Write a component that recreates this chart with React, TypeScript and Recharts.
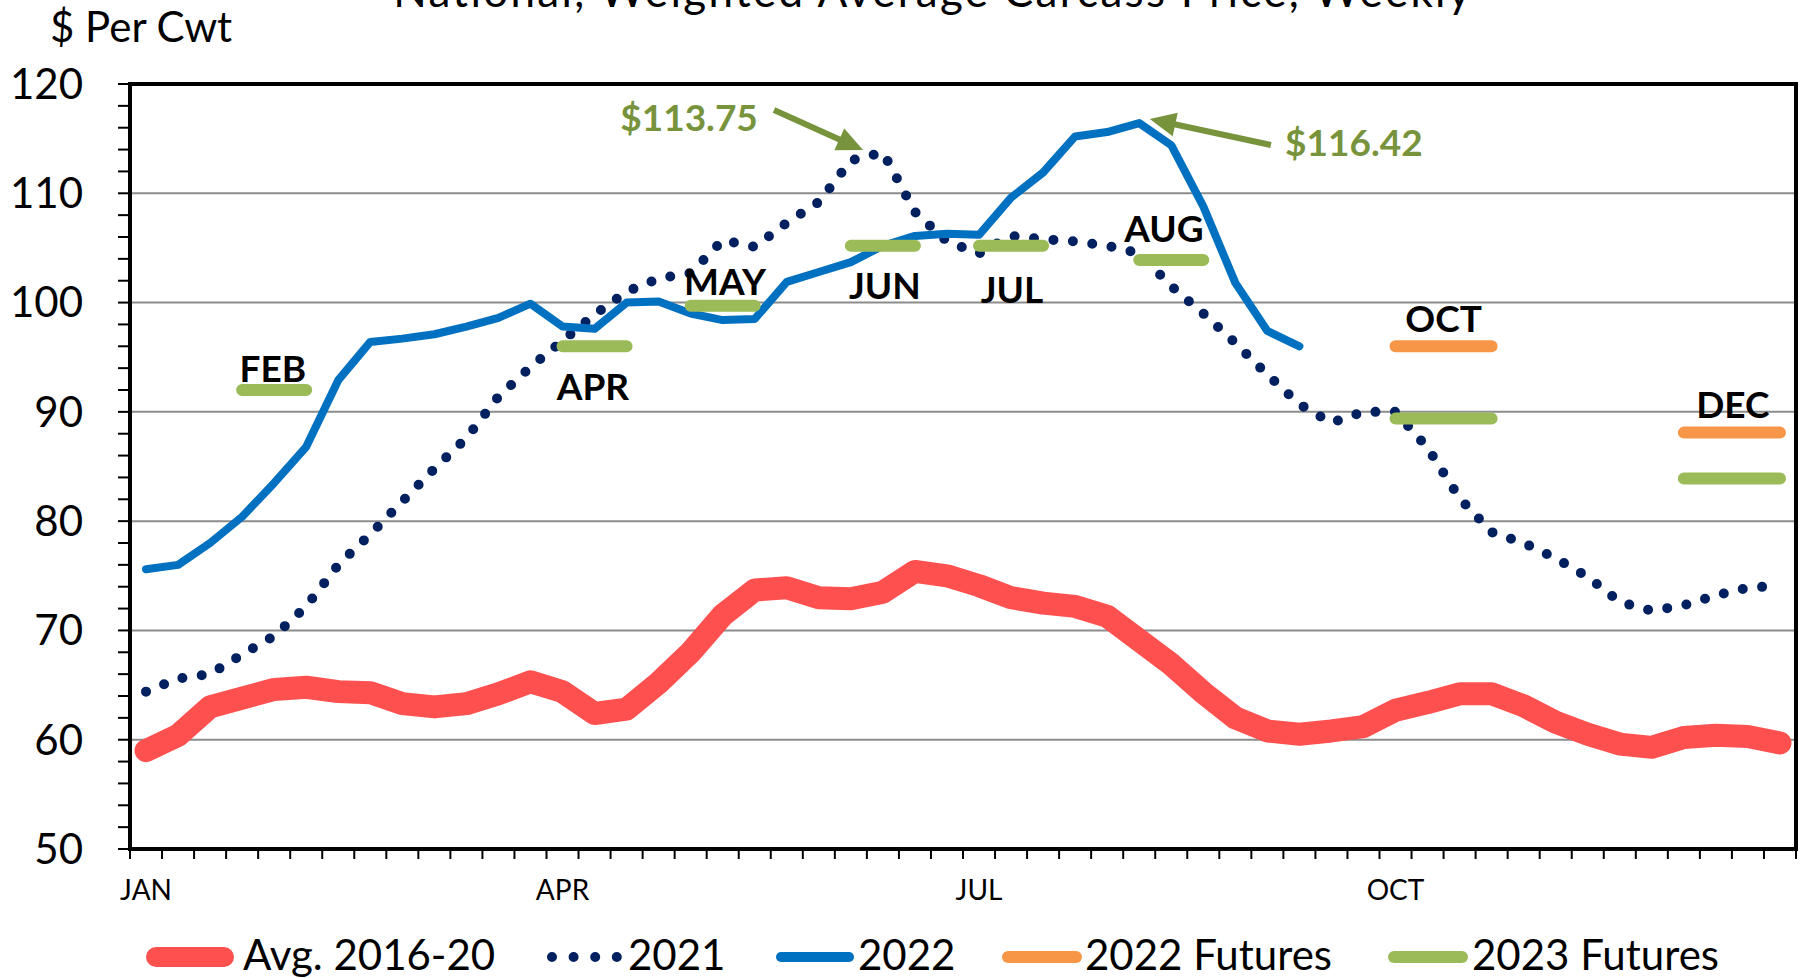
import React from 'react';
import {
  LineChart,
  Line,
  XAxis,
  YAxis,
  CartesianGrid,
  ReferenceArea,
  ReferenceDot,
  ReferenceLine,
} from 'recharts';

// ---------------- DATA ----------------
const weeks = [
  1, 2, 3, 4, 5, 6, 7, 8, 9, 10, 11, 12, 13, 14, 15, 16, 17, 18, 19, 20, 21, 22, 23, 24, 25, 26,
  27, 28, 29, 30, 31, 32, 33, 34, 35, 36, 37, 38, 39, 40, 41, 42, 43, 44, 45, 46, 47, 48, 49, 50,
  51, 52,
];

const quarterWeeks = [1, 14, 27, 40];
const quarterLabels = ['JAN', 'APR', 'JUL', 'OCT'];

const yTicks = [
  50, 52, 54, 56, 58, 60, 62, 64, 66, 68, 70, 72, 74, 76, 78, 80, 82, 84, 86, 88, 90, 92, 94, 96,
  98, 100, 102, 104, 106, 108, 110, 112, 114, 116, 118, 120,
];
const gridValues = [60, 70, 80, 90, 100, 110];

const avg2016_20 = [
  59.0, 60.4, 63.0, 63.8, 64.6, 64.8, 64.4, 64.3, 63.3, 63.0, 63.3, 64.2, 65.3, 64.4, 62.4, 62.8,
  65.2, 68.0, 71.4, 73.7, 73.9, 73.0, 72.9, 73.5, 75.4, 75.0, 74.1, 73.0, 72.5, 72.2, 71.3, 69.1,
  66.9, 64.3, 62.0, 60.8, 60.5, 60.8, 61.2, 62.7, 63.4, 64.2, 64.2, 63.1, 61.6, 60.5, 59.6, 59.3,
  60.2, 60.4, 60.3, 59.7,
];

const y2021 = [
  64.4, 65.6, 66.0, 67.8, 69.5, 72.2, 76.0, 78.8, 81.8, 84.8, 87.6, 91.4, 94.1, 96.5, 98.9, 101.0,
  102.2, 102.7, 105.7, 105.1, 107.3, 109.2, 113.0, 113.75, 108.3, 105.6, 104.5, 106.1, 105.8, 105.6,
  105.2, 104.5, 101.5, 99.0, 96.3, 93.4, 90.7, 89.0, 90.0, 90.0, 86.7, 82.1, 79.0, 78.0, 76.6, 74.9,
  72.6, 71.8, 72.3, 73.2, 73.9, 74.1,
];

const y2022 = [
  75.6, 76.0, 78.0, 80.4, 83.5, 86.8, 92.9, 96.4, 96.7, 97.1, 97.8, 98.6, 99.9, 97.8, 97.6, 100.0,
  100.1, 99.0, 98.4, 98.5, 101.9, 102.8, 103.7, 105.2, 106.1, 106.3, 106.2, 109.6, 111.9, 115.2,
  115.6, 116.42, 114.4, 108.8, 101.8, 97.4, 96.0,
];

const futures2022 = [
  { month: 'OCT', weeks: [40, 41, 42, 43], price: 96.0 },
  { month: 'DEC', weeks: [49, 50, 51, 52], price: 88.1 },
];

const futures2023 = [
  { month: 'FEB', weeks: [4, 5, 6], price: 92.0 },
  { month: 'APR', weeks: [14, 15, 16], price: 96.0 },
  { month: 'MAY', weeks: [18, 19, 20], price: 99.7 },
  { month: 'JUN', weeks: [23, 24, 25], price: 105.2 },
  { month: 'JUL', weeks: [27, 28, 29], price: 105.2 },
  { month: 'AUG', weeks: [32, 33, 34], price: 103.9 },
  { month: 'OCT', weeks: [40, 41, 42, 43], price: 89.4 },
  { month: 'DEC', weeks: [49, 50, 51, 52], price: 83.9 },
];

// contract month labels (anchor: week, price at text baseline)
const monthLabels = [
  { text: 'FEB', week: 4.96, value: 92.69 },
  { text: 'APR', week: 14.95, value: 91.09 },
  { text: 'MAY', week: 19.07, value: 100.7 },
  { text: 'JUN', week: 24.06, value: 100.36 },
  { text: 'JUL', week: 28.03, value: 99.96 },
  { text: 'AUG', week: 32.77, value: 105.54 },
  { text: 'OCT', week: 41.5, value: 97.31 },
  { text: 'DEC', week: 50.53, value: 89.44 },
];

const peakNotes = [
  {
    text: '$113.75',
    textWeek: 17.95,
    textValue: 115.7,
    from: { week: 20.6, value: 117.62 },
    to: { week: 23.38, value: 113.96 },
  },
  {
    text: '$116.42',
    textWeek: 38.7,
    textValue: 113.41,
    from: { week: 36.11, value: 114.42 },
    to: { week: 32.33, value: 116.8 },
  },
];

// ---------------- STYLES ----------------
const FONT = 'Lato, "Noto Sans", "DejaVu Sans", sans-serif';
const RED = '#FF5050';
const NAVY = '#002060';
const BLUE = '#0070C0';
const ORANGE = '#F79646';
const GREEN = '#9BBB59';
const OLIVE = '#77933C';

const seriesDefs = [
  { key: 'avg', name: 'Avg. 2016-20', color: RED, width: 23, dash: undefined as string | undefined },
  { key: 'y2021', name: '2021', color: NAVY, width: 10, dash: '0 19.5' },
  { key: 'y2022', name: '2022', color: BLUE, width: 8, dash: undefined },
  { key: 'f2022', name: '2022 Futures', color: ORANGE, width: 12, dash: undefined },
  { key: 'f2023', name: '2023 Futures', color: GREEN, width: 12, dash: undefined },
];

const legendLayout = [
  { x1: 156, x2: 224, textX: 243, width: 20, dash: undefined as string | undefined },
  { x1: 552, x2: 617, textX: 628, width: 10, dash: '0 21.6' },
  { x1: 781, x2: 849, textX: 858, width: 10, dash: undefined },
  { x1: 1008, x2: 1076, textX: 1085, width: 12, dash: undefined },
  { x1: 1394, x2: 1462, textX: 1472, width: 12, dash: undefined },
];

// ---------------- TABLE ----------------
const priceAt = (list: { weeks: number[]; price: number }[], w: number) => {
  const c = list.find((f) => f.weeks.includes(w));
  return c ? c.price : null;
};

const rows = weeks.map((w, i) => ({
  week: w,
  avg: avg2016_20[i],
  y2021: y2021[i],
  y2022: i < y2022.length ? y2022[i] : null,
  f2022: priceAt(futures2022, w),
  f2023: priceAt(futures2023, w),
}));

const xTicks = [...weeks.map((w) => w - 0.5), weeks[weeks.length - 1] + 0.5, ...quarterWeeks].sort(
  (a, b) => a - b
);

const XTick = (props: any) => {
  const { x, y, payload } = props;
  const v = payload.value;
  const qi = quarterWeeks.indexOf(v);
  if (qi >= 0) {
    return (
      <text x={x} y={y + 41} textAnchor="middle" fontFamily={FONT} fontSize={28} fill="#000">
        {quarterLabels[qi]}
      </text>
    );
  }
  return <line x1={x} y1={y - 10} x2={x} y2={y} stroke="#000" strokeWidth={2} />;
};

const Arrow = (p: any) => {
  const { x1, y1, x2, y2 } = p;
  const dx = x2 - x1;
  const dy = y2 - y1;
  const len = Math.hypot(dx, dy) || 1;
  const ux = dx / len;
  const uy = dy / len;
  const head = 26;
  const half = 12;
  const bx = x2 - ux * head;
  const by = y2 - uy * head;
  const px = -uy;
  const py = ux;
  return (
    <g>
      <line x1={x1} y1={y1} x2={bx + ux * 2} y2={by + uy * 2} stroke={OLIVE} strokeWidth={6} />
      <polygon
        points={`${x2},${y2} ${bx + px * half},${by + py * half} ${bx - px * half},${by - py * half}`}
        fill={OLIVE}
      />
    </g>
  );
};

export default function App() {
  return (
    <div
      style={{
        position: 'absolute',
        left: 0,
        top: 0,
        width: 1801,
        height: 978,
        overflow: 'hidden',
        background: '#fff',
      }}
    >
      <LineChart
        width={1801}
        height={978}
        data={rows}
        margin={{ top: 84, right: 5, bottom: 69, left: 0 }}
      >
        <CartesianGrid
          horizontal
          vertical={false}
          stroke="#8C8C8C"
          strokeWidth={2}
          horizontalValues={gridValues}
        />
        <XAxis
          dataKey="week"
          type="number"
          domain={[0.5, 52.5]}
          ticks={xTicks}
          interval={0}
          tick={<XTick />}
          tickLine={false}
          tickSize={10}
          tickMargin={0}
          height={60}
          axisLine={{ stroke: '#000', strokeWidth: 4 }}
          allowDataOverflow
        />
        <YAxis
          type="number"
          domain={[50, 120]}
          ticks={yTicks}
          interval={0}
          width={130}
          tickSize={12}
          tickMargin={35}
          tickFormatter={(v: number) => (v % 10 === 0 ? String(v) : '')}
          tick={{ fontFamily: FONT, fontSize: 42, fill: '#000' }}
          tickLine={{ stroke: '#000', strokeWidth: 2 }}
          axisLine={{ stroke: '#000', strokeWidth: 4 }}
          allowDataOverflow
        />
        <ReferenceArea
          x1={0.5}
          x2={52.5}
          y1={50}
          y2={120}
          fill="none"
          fillOpacity={0}
          stroke="#000"
          strokeWidth={4}
          ifOverflow="visible"
        />
        {seriesDefs.map((s) => (
          <Line
            key={s.key}
            dataKey={s.key}
            name={s.name}
            type="linear"
            stroke={s.color}
            strokeWidth={s.width}
            strokeDasharray={s.dash}
            strokeLinecap="round"
            strokeLinejoin="round"
            dot={false}
            activeDot={false}
            connectNulls={false}
            isAnimationActive={false}
          />
        ))}
        {monthLabels.map((m) => (
          <ReferenceDot
            key={m.text + m.week}
            x={m.week}
            y={m.value}
            r={0}
            ifOverflow="visible"
            shape={(p: any) => (
              <text
                x={p.cx}
                y={p.cy}
                textAnchor="middle"
                fontFamily={FONT}
                fontWeight={700}
                fontSize={37}
                fill="#000"
              >
                {m.text}
              </text>
            )}
          />
        ))}
        {peakNotes.map((n) => (
          <ReferenceLine
            key={n.text + 'arrow'}
            segment={[
              { x: n.from.week, y: n.from.value },
              { x: n.to.week, y: n.to.value },
            ]}
            ifOverflow="visible"
            shape={(p: any) => <Arrow {...p} />}
          />
        ))}
        {peakNotes.map((n) => (
          <ReferenceDot
            key={n.text}
            x={n.textWeek}
            y={n.textValue}
            r={0}
            ifOverflow="visible"
            shape={(p: any) => (
              <text
                x={p.cx}
                y={p.cy}
                textAnchor="middle"
                fontFamily={FONT}
                fontWeight={700}
                fontSize={37}
                fill={OLIVE}
              >
                {n.text}
              </text>
            )}
          />
        ))}
      </LineChart>
      <svg
        width={1801}
        height={978}
        style={{ position: 'absolute', left: 0, top: 0, pointerEvents: 'none' }}
      >
        <text
          x={933}
          y={7}
          textAnchor="middle"
          fontFamily={FONT}
          fontSize={44}
          letterSpacing={2.3}
          fill="#000"
        >
          National, Weighted Average Carcass Price, Weekly
        </text>
        <text x={50} y={41.5} fontFamily={FONT} fontSize={42} fill="#000">
          $ Per Cwt
        </text>
        {seriesDefs.map((s, i) => {
          const L = legendLayout[i];
          return (
            <g key={s.key}>
              <line
                x1={L.x1}
                y1={957}
                x2={L.x2}
                y2={957}
                stroke={s.color}
                strokeWidth={L.width}
                strokeLinecap="round"
                strokeDasharray={L.dash}
              />
              <text x={L.textX} y={970} fontFamily={FONT} fontSize={42} fill="#000">
                {s.name}
              </text>
            </g>
          );
        })}
      </svg>
    </div>
  );
}
